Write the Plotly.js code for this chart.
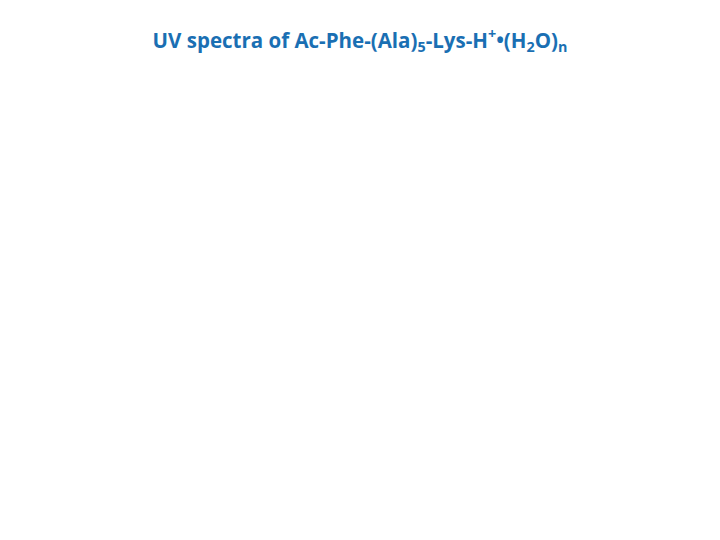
<!DOCTYPE html>
<html>
<head>
<meta charset="utf-8">
<script src="https://cdn.plot.ly/plotly-3.0.1.min.js"></script>
<style>
  html, body { margin: 0; padding: 0; background: #fff; }
  #chart { width: 720px; height: 540px; }
</style>
</head>
<body>
<div id="chart"></div>
<script>
// the slide shows only its title; no spectra are drawn
const wavelengths = []
const intensities = []

const data = [
    {
        x: wavelengths,
        y: intensities,
        type: "scatter",
        mode: "lines",
        showlegend: false
    }
]

const layout = {
    width: 720,
    height: 540,
    paper_bgcolor: "#ffffff",
    plot_bgcolor: "#ffffff",
    margin: {l: 0, r: 0, t: 0, b: 0},
    title: {
        text: "<b>UV spectra of Ac-Phe-(Ala)<sub>5</sub>-Lys-H<sup>+</sup>•(H<sub>2</sub>O)<sub>n</sub></b>",
        font: {family: "Open Sans", size: 20.5, color: "#1a6fb3"},
        x: 0.5,
        xanchor: "center",
        y: 0.911,
        yanchor: "bottom"
    },
    xaxis: {visible: false},
    yaxis: {visible: false}
}

Plotly.newPlot("chart", data, layout, {displayModeBar: false})
</script>
</body>
</html>
